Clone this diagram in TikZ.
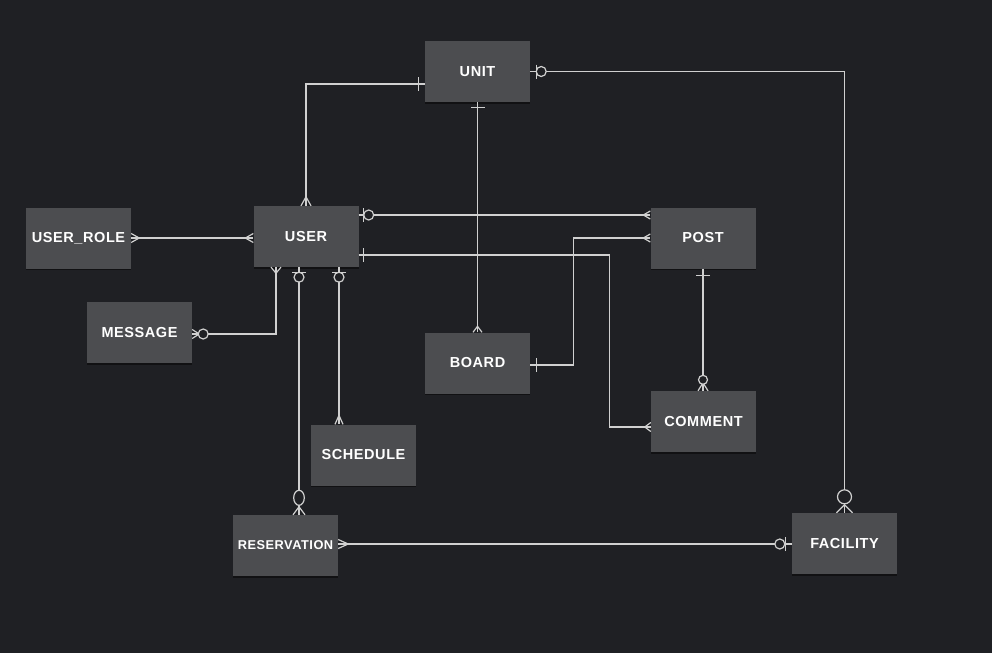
\documentclass[tikz,border=0pt]{standalone}
\usepackage{fontspec}
\setmainfont{Liberation Sans}[LetterSpace=4]
\usetikzlibrary{shadows}
\definecolor{bg}{HTML}{1F2024}
\definecolor{boxc}{HTML}{4C4D50}
\definecolor{ln}{HTML}{D0D0D0}
\newcommand\ercrow[4]{\begin{scope}[shift={#1},rotate=#2]\draw[conn] (0pt,#4) -- (#3,0pt) -- (0pt,-#4);\end{scope}}
\newcommand\erbar[3]{\begin{scope}[shift={#1},rotate=#2]\draw[conn] (#3,7pt) -- (#3,-7pt);\end{scope}}
\newcommand\ercirc[5]{\begin{scope}[shift={#1},rotate=#2]\draw[conn,fill=bg] (#3,0pt) ellipse [x radius=#4, y radius=#5];\end{scope}}
\begin{document}
\begin{tikzpicture}[x=1pt,y=-1pt,
  ent/.style={fill=boxc, minimum width=105pt, minimum height=61pt, inner sep=0pt,
    text=white, font=\bfseries\fontsize{14.5}{16}\selectfont,
    drop shadow={shadow xshift=0pt, shadow yshift=-1.5pt, fill=black, opacity=0.45}},
  conn/.style={draw=ln, line width=1.2pt}]
\fill[bg] (0,0) rectangle (992,653);
\useasboundingbox (0,0) rectangle (992,653);

\node[ent] (unit) at (477.5,71.5) {UNIT};
\node[ent] (user) at (306,236.5) {USER};
\node[ent] (userrole) at (78.5,238) {USER\_ROLE};
\node[ent] (post) at (703,238) {POST};
\node[ent] (message) at (139.5,332.5) {MESSAGE};
\node[ent] (board) at (477.5,363) {BOARD};
\node[ent] (comment) at (703.5,421.5) {COMMENT};
\node[ent] (schedule) at (363.5,455) {SCHEDULE};
\node[ent, font=\bfseries\fontsize{12.8}{14}\selectfont] (reservation) at (285.5,545.5) {RESERVATION};
\node[ent] (facility) at (844.5,543.5) {FACILITY};

\coordinate (pUW) at ([yshift=-12.5pt]unit.west);
\coordinate (pUWest) at (userrole.east -| user.west);
\coordinate (pUE1) at ([yshift=21.5pt]user.east);
\coordinate (pPW1) at (pUE1 -| post.west);
\coordinate (pBE) at ([yshift=-2pt]board.east);
\coordinate (pUE2) at ([yshift=-18.5pt]user.east);
\coordinate (pCW) at ([yshift=-5.5pt]comment.west);
\coordinate (pCN) at (post.south |- comment.north);
\coordinate (pUS1) at ([xshift=-30pt]user.south);
\coordinate (pME) at ([yshift=-1.5pt]message.east);
\coordinate (pUS2) at ([xshift=-7pt]user.south);
\coordinate (pRN) at (pUS2 |- reservation.north);
\coordinate (pUS3) at ([xshift=33pt]user.south);
\coordinate (pSN) at (pUS3 |- schedule.north);
\coordinate (pRE) at ([yshift=1.5pt]reservation.east);
\coordinate (pFW) at (pRE -| facility.west);

\draw[conn] (pUW) -| (user.north);
\draw[conn] (unit.east) -| (facility.north);
\draw[conn] (unit.south) -- (board.north);
\draw[conn] (userrole.east) -- (pUWest);
\draw[conn] (pUE1) -- (pPW1);
\draw[conn] (pBE) -- ++(43,0) |- (post.west);
\draw[conn] (pUE2) -- ++(251,0) |- (pCW);
\draw[conn] (post.south) -- (pCN);
\draw[conn] (pUS1) |- (pME);
\draw[conn] (pUS2) -- (pRN);
\draw[conn] (pUS3) -- (pSN);
\draw[conn] (pRE) -- (pFW);

\erbar{(pUW)}{180}{6pt}
\ercrow{(user.north)}{90}{9pt}{5pt}
\erbar{(unit.east)}{0}{6pt} \ercirc{(unit.east)}{0}{11pt}{5pt}{5pt}
\ercrow{(facility.north)}{90}{8pt}{8pt} \ercirc{(facility.north)}{90}{16pt}{7pt}{7pt}
\erbar{(unit.south)}{270}{5pt}
\ercrow{(board.north)}{90}{6pt}{4.5pt}
\ercrow{(userrole.east)}{0}{8pt}{4.5pt}
\ercrow{(pUWest)}{180}{8pt}{4.5pt}
\erbar{(pUE1)}{0}{5pt} \ercirc{(pUE1)}{0}{10pt}{5pt}{5pt}
\ercrow{(pPW1)}{180}{7pt}{4pt}
\erbar{(pBE)}{0}{6pt}
\ercrow{(post.west)}{180}{7pt}{4pt}
\erbar{(pUE2)}{0}{5pt}
\ercrow{(pCW)}{180}{6pt}{4.5pt}
\erbar{(post.south)}{270}{7pt}
\ercrow{(pCN)}{90}{8pt}{5pt} \ercirc{(pCN)}{90}{11pt}{4.5pt}{4.5pt}
\ercrow{(pUS1)}{270}{6pt}{5pt}
\ercrow{(pME)}{0}{7pt}{4.5pt} \ercirc{(pME)}{0}{11pt}{5pt}{5pt}
\erbar{(pUS2)}{270}{5pt} \ercirc{(pUS2)}{270}{10pt}{5pt}{5pt}
\ercrow{(pRN)}{90}{8pt}{6pt} \ercirc{(pRN)}{90}{17pt}{7.5pt}{5.3pt}
\erbar{(pUS3)}{270}{5pt} \ercirc{(pUS3)}{270}{10pt}{5pt}{5pt}
\ercrow{(pSN)}{90}{9pt}{4pt}
\ercrow{(pRE)}{0}{10pt}{4.5pt}
\erbar{(pFW)}{180}{6pt} \ercirc{(pFW)}{180}{12pt}{5pt}{5pt}
\end{tikzpicture}
\end{document}
